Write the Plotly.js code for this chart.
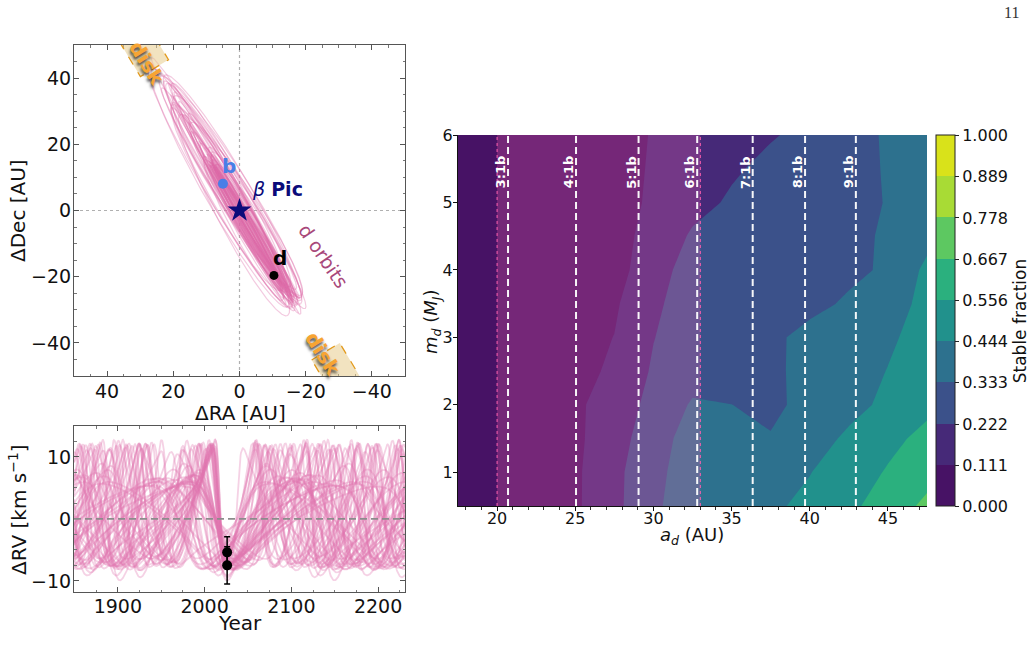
<!DOCTYPE html>
<html>
<head>
<meta charset="utf-8">
<script src="https://cdn.plot.ly/plotly-3.0.1.min.js"></script>
<style>
  html, body { margin: 0; padding: 0; background: #ffffff; }
  #chart { width: 1033px; height: 652px; }
</style>
</head>
<body>
<div id="chart"></div>
<script>
// ---------------- data ----------------
// Sampled orbits of planet d (Keplerian elements)
const orbA      = [18, 19, 20, 21, 22, 23, 24, 25, 26, 27, 28, 30, 32, 34, 36, 22, 24, 26, 29, 31,
                   28, 30, 32, 35, 38, 40, 42, 44, 33, 36, 27, 29, 31, 37, 46, 25, 34, 39, 43, 26,
                   21, 24, 27, 30, 35, 40, 23, 32,
                   19.5, 21.5, 23.5, 25.5, 28.5, 33, 38, 30, 34, 41, 45, 26, 29, 37, 42, 20];   // semi-major axis [AU]
const orbE      = [0.30, 0.32, 0.35, 0.40, 0.45, 0.42, 0.50, 0.55, 0.48, 0.60, 0.65, 0.62, 0.70, 0.68, 0.72, 0.25, 0.30, 0.38, 0.45, 0.52,
                   0.25, 0.30, 0.28, 0.30, 0.33, 0.35, 0.38, 0.40, 0.20, 0.22, 0.20, 0.15, 0.35, 0.40, 0.42, 0.18, 0.26, 0.30, 0.36, 0.22,
                   0.33, 0.45, 0.55, 0.60, 0.30, 0.35, 0.40, 0.50,
                   0.28, 0.36, 0.47, 0.52, 0.58, 0.64, 0.70, 0.27, 0.33, 0.37, 0.39, 0.42, 0.50, 0.28, 0.33, 0.30]; // eccentricity
const orbArgPeri = [37, 45, 52, 55, 62, 40, 60, 67, 50, 70, 68, 72, 70, 75, 76, 20, 30, 35, 55, 60,
                    95, 120, 105, 110, 112, 115, 118, 120, 100, 130, 140, 80, 135, 125, 122, 85, 98, 102, 108, 70,
                    -40, -55, -65, -70, -110, -115, -50, -62,
                    30, 48, 58, 64, 66, 73, 77, 100, 118, 112, 121, -52, -60, -105, -118, -35]; // argument of periastron [deg]
const orbInc    = [88, 92, 86, 94, 89, 91, 85, 95, 87, 93, 84, 96, 88, 92, 85, 90.5, 89.5, 84, 96, 90,
                   87, 93, 85, 95, 86, 94, 83, 97, 90, 88, 92, 86, 94, 84, 87, 93, 82, 98, 85, 95,
                   87, 93, 86, 94, 88, 92, 85, 95,
                   86, 94, 85, 95, 87, 93, 90, 82, 98, 84, 96, 85, 95, 83, 97, 93];     // inclination [deg]
const orbNode   = [30, 31, 29, 32, 30, 28, 31, 30, 33, 29, 31, 30, 32, 28, 30, 30, 31, 29, 31, 30,
                   31, 30, 29, 32, 30, 31, 33, 29, 30, 31, 30, 32, 28, 30, 31, 30, 34, 27, 32, 29,
                   30, 31, 29, 30, 31, 30, 32, 28,
                   31, 30, 29, 32, 30, 31, 29, 31, 30, 32, 30, 31, 29, 30, 31, 30];     // longitude of ascending node [deg]
const orbBranch = [1, -1, 1, -1, 1, -1, 1, -1, 1, -1, 1, -1, 1, -1, 1, 1, -1, 1, -1, 1,
                   1, -1, 1, -1, 1, -1, 1, -1, 1, -1, 1, -1, 1, -1, 1, -1, 1, -1, 1, -1,
                   1, 1, 1, 1, 1, -1, 1, 1,
                   -1, 1, -1, 1, -1, 1, -1, 1, -1, 1, -1, 1, 1, 1, -1, 1];          // side of the sky plane at the epoch
const starMass = 1.95;       // total mass [Msun]
const obsEpoch = 2026.0;     // epoch of the d detection [yr]

// Relative astrometry [AU]
const planetB = { ra: 5.0, dec: 8.1 };
const planetD = { ra: -10.4, dec: -19.6 };

// Measured relative RV of d
const rvYear = [2026.0, 2026.0];
const rvValue = [-5.4, -7.5];
const rvError = [2.5, 3.0];

// Stability grid: a_d [AU] x m_d [M_J]
const gridA = [17.5, 20, 22.5, 25, 27.5, 30, 32.5, 35, 37.5, 40, 42.5, 45, 47.5];
const gridM = [0.5, 1, 1.5, 2, 2.5, 3, 3.5, 4, 4.5, 5, 5.5, 6];
const stableFrac = [
  [0.00, 0.02, 0.05, 0.095, 0.19, 0.325, 0.36, 0.393, 0.426, 0.471, 0.531, 0.608, 0.69],
  [0.00, 0.02, 0.05, 0.095, 0.187, 0.322, 0.354, 0.383, 0.412, 0.441, 0.50, 0.565, 0.63],
  [0.00, 0.02, 0.05, 0.095, 0.16, 0.305, 0.36, 0.35, 0.34, 0.40, 0.462, 0.527, 0.585],
  [0.00, 0.02, 0.05, 0.09, 0.166, 0.252, 0.345, 0.334, 0.31, 0.366, 0.414, 0.465, 0.53],
  [0.00, 0.02, 0.05, 0.075, 0.13, 0.235, 0.29, 0.30, 0.315, 0.362, 0.404, 0.447, 0.50],
  [0.00, 0.02, 0.045, 0.07, 0.113, 0.219, 0.28, 0.295, 0.315, 0.36, 0.397, 0.43, 0.48],
  [0.00, 0.02, 0.04, 0.065, 0.095, 0.21, 0.255, 0.275, 0.29, 0.31, 0.345, 0.42, 0.46],
  [0.00, 0.02, 0.035, 0.05, 0.07, 0.175, 0.27, 0.28, 0.29, 0.30, 0.315, 0.345, 0.469],
  [0.00, 0.02, 0.03, 0.045, 0.07, 0.15, 0.235, 0.27, 0.28, 0.29, 0.30, 0.35, 0.41],
  [0.00, 0.02, 0.03, 0.04, 0.065, 0.13, 0.19, 0.235, 0.255, 0.27, 0.29, 0.34, 0.40],
  [0.00, 0.02, 0.03, 0.04, 0.06, 0.125, 0.17, 0.21, 0.245, 0.26, 0.285, 0.345, 0.40],
  [0.00, 0.02, 0.03, 0.04, 0.055, 0.12, 0.155, 0.18, 0.215, 0.245, 0.28, 0.35, 0.40]
];

// Mean-motion resonances with b
const resLabels = ['3:1b', '4:1b', '5:1b', '6:1b', '7:1b', '8:1b', '9:1b'];
const resA = [20.7, 25.05, 29.05, 32.8, 36.35, 39.7, 42.95];
// Shaded semi-major axis interval
const spanA = [20.0, 33.0];

// Colour bar levels
const levelTicks = [0, 1/9, 2/9, 3/9, 4/9, 5/9, 6/9, 7/9, 8/9, 1];
const levelText = ['0.000', '0.111', '0.222', '0.333', '0.444', '0.556', '0.667', '0.778', '0.889', '1.000'];

// ---------------- helpers ----------------
const W = 1033, H = 652;
const FONT = 'DejaVu Sans, sans-serif';
const D2R = Math.PI / 180;
const fx = px => px / W;
const fy = py => 1 - py / H;

function skyPosition(a, e, w, inc, node, nu) {
  const r = a * (1 - e * e) / (1 + e * Math.cos(nu));
  const u = w + nu;
  const ra = r * (Math.sin(node) * Math.cos(u) + Math.cos(node) * Math.sin(u) * Math.cos(inc));
  const dec = r * (Math.cos(node) * Math.cos(u) - Math.sin(node) * Math.sin(u) * Math.cos(inc));
  return [ra, dec];
}

function solveKepler(M, e) {
  M = Math.atan2(Math.sin(M), Math.cos(M));
  let E = M + e * Math.sin(M);
  for (let it = 0; it < 50; it++) {
    E -= (E - e * Math.sin(E) - M) / (1 - e * Math.cos(E));
  }
  return E;
}

const orbitColor = 'rgba(222,108,170,0.36)';
const rvColor = 'rgba(224,118,176,0.33)';

const skyTraces = [];
const rvTraces = [];

for (let k = 0; k < orbA.length; k++) {
  const a = orbA[k], e = orbE[k];
  const w = orbArgPeri[k] * D2R, inc = orbInc[k] * D2R, node = orbNode[k] * D2R;

  // projected orbit
  const xs = [], ys = [];
  for (let j = 0; j <= 360; j++) {
    const p = skyPosition(a, e, w, inc, node, j * D2R);
    xs.push(p[0]); ys.push(p[1]);
  }
  skyTraces.push({
    type: 'scatter', mode: 'lines', x: xs, y: ys, xaxis: 'x', yaxis: 'y',
    line: { color: orbitColor, width: 1.2 }, hoverinfo: 'skip', showlegend: false
  });

  // orbital phase that puts the planet at the measured position of d
  let best = Infinity, nuD = 0;
  for (let j = 0; j < 7200; j++) {
    const nu = j * Math.PI / 3600;
    if (Math.sign(Math.sin(w + nu)) !== orbBranch[k]) continue;
    const p = skyPosition(a, e, w, inc, node, nu);
    const d2 = (p[0] - planetD.ra) ** 2 + (p[1] - planetD.dec) ** 2;
    if (d2 < best) { best = d2; nuD = nu; }
  }
  const Ed = 2 * Math.atan2(Math.sqrt(1 - e) * Math.sin(nuD / 2), Math.sqrt(1 + e) * Math.cos(nuD / 2));
  const M0 = Ed - e * Math.sin(Ed);
  const period = Math.sqrt(a * a * a / starMass);
  const K = 29.78 * Math.sqrt(starMass / a) / Math.sqrt(1 - e * e) * Math.sin(inc);

  const ts = [], rv = [];
  for (let t = 1849.5; t <= 2231.01; t += 0.5) {
    const E = solveKepler(M0 + 2 * Math.PI * (t - obsEpoch) / period, e);
    const nu = 2 * Math.atan2(Math.sqrt(1 + e) * Math.sin(E / 2), Math.sqrt(1 - e) * Math.cos(E / 2));
    ts.push(t);
    rv.push(K * (Math.cos(w + nu) + e * Math.cos(w)));
  }
  rvTraces.push({
    type: 'scatter', mode: 'lines', x: ts, y: rv, xaxis: 'x2', yaxis: 'y2',
    line: { color: rvColor, width: 1.8 }, hoverinfo: 'skip', showlegend: false
  });
}

// ---------------- traces ----------------
const markerTraces = [
  { type: 'scatter', mode: 'markers', x: [planetB.ra], y: [planetB.dec], xaxis: 'x', yaxis: 'y',
    marker: { color: '#4a7ee6', size: 10 }, hoverinfo: 'skip', showlegend: false },
  { type: 'scatter', mode: 'markers', x: [0], y: [0], xaxis: 'x', yaxis: 'y',
    marker: { color: '#0b0b7a', size: 18, symbol: 'star' }, hoverinfo: 'skip', showlegend: false },
  { type: 'scatter', mode: 'markers', x: [planetD.ra], y: [planetD.dec], xaxis: 'x', yaxis: 'y',
    marker: { color: '#000000', size: 9 }, hoverinfo: 'skip', showlegend: false },
  { type: 'scatter', mode: 'markers', x: rvYear, y: rvValue, xaxis: 'x2', yaxis: 'y2',
    marker: { color: '#000000', size: 10 },
    error_y: { type: 'data', array: rvError, visible: true, color: '#000000', thickness: 1.5, width: 3 },
    hoverinfo: 'skip', showlegend: false }
];

const bandColors = ['#471265', '#453581', '#38598c', '#2c748e', '#21918c', '#27ad81', '#4fc46a', '#90d743', '#d9e21a'];
const colorscale = [[0, bandColors[0]]];
bandColors.forEach((c, i) => colorscale.push([(i + 1) / 10, c]));
colorscale.push([1, bandColors[8]]);

const contourTrace = {
  type: 'contour', x: gridA, y: gridM, z: stableFrac, xaxis: 'x3', yaxis: 'y3',
  autocontour: false, zmin: 0, zmax: 1,
  contours: { start: 0, end: 1, size: 1 / 9, coloring: 'fill', showlines: false },
  line: { width: 0, smoothing: 0 },
  colorscale: colorscale,
  hoverinfo: 'skip',
  colorbar: {
    x: fx(936), xanchor: 'left', y: fy(321), yanchor: 'middle',
    len: 371 / H, lenmode: 'fraction', thickness: 19, thicknessmode: 'pixels',
    xpad: 0, ypad: 0, outlinewidth: 1, outlinecolor: '#222',
    tickmode: 'array', tickvals: levelTicks, ticktext: levelText,
    ticks: 'outside', ticklen: 4, tickcolor: '#222',
    tickfont: { family: FONT, size: 16, color: '#111' },
    title: { text: 'Stable fraction', side: 'right', font: { family: FONT, size: 17, color: '#111' } }
  }
};

// ---------------- shapes ----------------
const shapes = [];
// reference lines through the star
shapes.push({ type: 'line', xref: 'x', yref: 'y domain', x0: 0, x1: 0, y0: 0, y1: 1,
  line: { color: '#b0b0b0', width: 1.2, dash: 'dot' }, layer: 'below' });
shapes.push({ type: 'line', xref: 'x domain', yref: 'y', x0: 0, x1: 1, y0: 0, y1: 0,
  line: { color: '#b0b0b0', width: 1.2, dash: 'dot' }, layer: 'below' });

// disk position boxes (edge-on disk along PA ~31 deg)
function boxPath(cx, cy, paDeg, halfLen, halfWid) {
  const ux = Math.sin(paDeg * D2R), uy = Math.cos(paDeg * D2R);
  const vx = uy, vy = -ux;
  const pts = [[ halfLen,  halfWid], [ halfLen, -halfWid], [-halfLen, -halfWid], [-halfLen, halfWid]]
    .map(([l, s]) => [cx + l * ux + s * vx, cy + l * uy + s * vy]);
  return 'M' + pts.map(p => p[0].toFixed(3) + ',' + p[1].toFixed(3)).join('L') + 'Z';
}
[[29.3, 49.0], [-29.65, -48.6]].forEach(c => {
  shapes.push({ type: 'path', xref: 'x', yref: 'y', path: boxPath(c[0], c[1], 31, 7, 4.95),
    fillcolor: 'rgba(232,204,140,0.55)', line: { color: '#e39a1c', width: 1.3, dash: 'dash' }, layer: 'above' });
});

// zero line of the RV panel
shapes.push({ type: 'line', xref: 'x2 domain', yref: 'y2', x0: 0, x1: 1, y0: 0, y1: 0,
  line: { color: '#8c8c8c', width: 1.6, dash: '7px,4px' }, layer: 'above' });

// shaded a_d interval
shapes.push({ type: 'rect', xref: 'x3', yref: 'y3 domain', x0: spanA[0], x1: spanA[1], y0: 0, y1: 1,
  fillcolor: 'rgba(255,105,180,0.25)', line: { width: 0 }, layer: 'above' });
spanA.forEach(v => shapes.push({ type: 'line', xref: 'x3', yref: 'y3 domain', x0: v, x1: v, y0: 0, y1: 1,
  line: { color: '#ff5fb0', width: 1, dash: 'dot' }, layer: 'above' }));

// resonance locations
resA.forEach(v => shapes.push({ type: 'line', xref: 'x3', yref: 'y3 domain', x0: v, x1: v, y0: 0, y1: 1,
  line: { color: 'rgba(255,255,255,0.95)', width: 2, dash: '7px,4px' }, layer: 'above' }));

// ---------------- annotations ----------------
const ann = [];
const txt = (o) => ann.push(Object.assign({ showarrow: false, xanchor: 'center', yanchor: 'middle' }, o));

// astrometry panel labels
txt({ xref: 'x', yref: 'y', x: 3.2, y: 13.4, text: '<b>b</b>', font: { family: FONT, size: 20, color: '#4a7ee6' } });
txt({ xref: 'x', yref: 'y', x: -11.6, y: 6.4, text: '<i>β</i> <b>Pic</b>', font: { family: FONT, size: 19, color: '#0b0b7a' } });
txt({ xref: 'x', yref: 'y', x: -12.2, y: -14.3, text: '<b>d</b>', font: { family: FONT, size: 20, color: '#000000' } });
txt({ xref: 'x', yref: 'y', x: -25.5, y: -13.6, text: 'd orbits', textangle: 56, font: { family: FONT, size: 19, color: '#a8487a' } });
[[27.9, 44.7], [-25.2, -43.4]].forEach(p => txt({ xref: 'x', yref: 'y', x: p[0], y: p[1], text: '<b>disk</b>', textangle: 58,
  font: { family: FONT, size: 20, color: '#f7a433', shadow: '2px 2px 3px rgba(0,0,0,0.7)' } }));

// axis titles
txt({ xref: 'paper', yref: 'paper', x: fx(18), y: fy(211), text: 'ΔDec [AU]', textangle: -90, font: { family: FONT, size: 20, color: '#111' } });
txt({ xref: 'paper', yref: 'paper', x: fx(240), y: fy(413), text: 'ΔRA [AU]', font: { family: FONT, size: 20, color: '#111' } });
txt({ xref: 'paper', yref: 'paper', x: fx(18), y: fy(510), text: 'ΔRV [km s<sup>−1</sup>]', textangle: -90, font: { family: FONT, size: 20, color: '#111' } });
txt({ xref: 'paper', yref: 'paper', x: fx(240), y: fy(623), text: 'Year', font: { family: FONT, size: 20, color: '#111' } });
txt({ xref: 'paper', yref: 'paper', x: fx(692), y: fy(536), text: '<i>a</i><sub><i>d</i></sub> (AU)', font: { family: FONT, size: 18, color: '#111' } });
txt({ xref: 'paper', yref: 'paper', x: fx(432), y: fy(322), text: '<i>m</i><sub><i>d</i></sub> (<i>M</i><sub><i>J</i></sub>)', textangle: -90, font: { family: FONT, size: 18, color: '#111' } });

// resonance labels
resA.forEach((v, i) => txt({ xref: 'x3', yref: 'y3', x: v - 0.5, y: 5.45, text: '<b>' + resLabels[i] + '</b>', textangle: -90,
  font: { family: FONT, size: 13, color: '#ffffff' } }));

// page number
txt({ xref: 'paper', yref: 'paper', x: fx(1011), y: fy(13), text: '11', font: { family: 'Liberation Serif, serif', size: 16, color: '#333' } });

// ---------------- axes ----------------
const leftAxis = {
  showline: true, linecolor: '#555', linewidth: 1, mirror: 'allticks',
  ticks: 'inside', ticklen: 5, tickwidth: 1, tickcolor: '#555',
  showgrid: false, zeroline: false, fixedrange: true,
  tickfont: { family: FONT, size: 19, color: '#111' },
  minor: { ticks: 'inside', ticklen: 2.5, tickcolor: '#777', showgrid: false }
};
const rightAxis = {
  showline: true, linecolor: '#111', linewidth: 1, mirror: false,
  ticks: 'outside', ticklen: 4, tickwidth: 1, tickcolor: '#111',
  showgrid: false, zeroline: false, fixedrange: true,
  tickfont: { family: FONT, size: 16, color: '#111' }
};
// opposite spines of the stability map carry inward ticks
const rightMirror = {
  showline: true, linecolor: '#111', linewidth: 1,
  ticks: 'inside', ticklen: 4, tickwidth: 1, tickcolor: '#111',
  showticklabels: false, showgrid: false, zeroline: false, fixedrange: true
};

const layout = {
  width: W, height: H,
  margin: { l: 0, r: 0, t: 0, b: 0 },
  paper_bgcolor: '#ffffff', plot_bgcolor: '#ffffff',
  showlegend: false, hovermode: false,
  font: { family: FONT, color: '#111' },
  xaxis: Object.assign({}, leftAxis, { domain: [fx(74), fx(405)], range: [50, -50], tick0: 0, dtick: 20,
    minor: Object.assign({}, leftAxis.minor, { dtick: 5 }), anchor: 'y', ticklabelstandoff: -2 }),
  yaxis: Object.assign({}, leftAxis, { domain: [fy(376), fy(45)], range: [-50, 50], tick0: 0, dtick: 20,
    minor: Object.assign({}, leftAxis.minor, { dtick: 5 }), anchor: 'x', ticklabelstandoff: -2 }),
  xaxis2: Object.assign({}, leftAxis, { domain: [fx(74), fx(405)], range: [1849.5, 2231], tick0: 1900, dtick: 100,
    minor: Object.assign({}, leftAxis.minor, { dtick: 25 }), anchor: 'y2', ticklabelstandoff: -3 }),
  yaxis2: Object.assign({}, leftAxis, { domain: [fy(592), fy(426)], range: [-11.8, 15], tick0: 0, dtick: 10,
    minor: Object.assign({}, leftAxis.minor, { dtick: 2.5 }), anchor: 'x2', ticklabelstandoff: -2 }),
  xaxis3: Object.assign({}, rightAxis, { domain: [fx(458), fx(927)], range: [17.5, 47.5], tick0: 20, dtick: 5,
    minor: { ticks: 'outside', ticklen: 2.5, dtick: 1, tickcolor: '#333' }, anchor: 'y3', ticklabelstandoff: -6 }),
  yaxis3: Object.assign({}, rightAxis, { domain: [fy(506), fy(135)], range: [0.5, 6], tick0: 1, dtick: 1,
    anchor: 'x3', ticklabelstandoff: -3 }),
  xaxis4: Object.assign({}, rightMirror, { overlaying: 'x3', side: 'top', anchor: 'y3', range: [17.5, 47.5], tick0: 20, dtick: 5 }),
  yaxis4: Object.assign({}, rightMirror, { overlaying: 'y3', side: 'right', anchor: 'x3', range: [0.5, 6], tick0: 1, dtick: 1 }),
  shapes: shapes,
  annotations: ann
};

Plotly.newPlot('chart', [contourTrace].concat(skyTraces, rvTraces, markerTraces), layout,
  { displayModeBar: false, staticPlot: true });
</script>
</body>
</html>
